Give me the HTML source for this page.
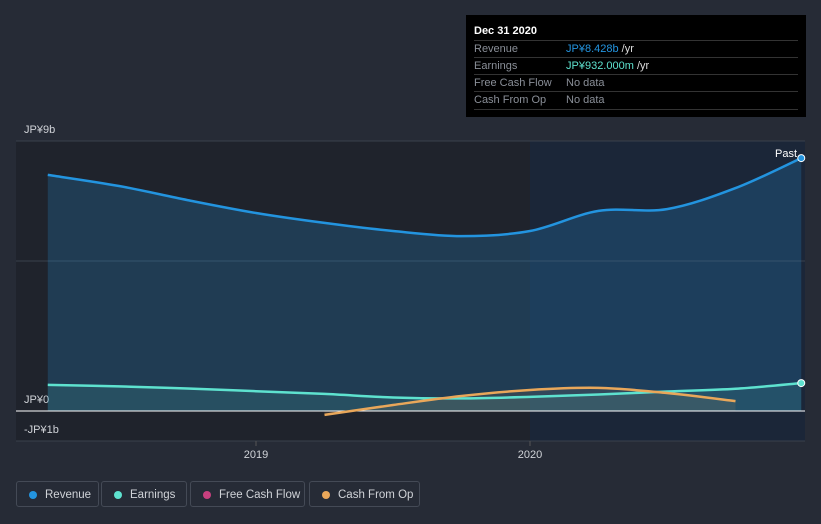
<!DOCTYPE html>
<html><head><meta charset="utf-8"><style>
body{margin:0;width:821px;height:524px;background:#262b36;font-family:"Liberation Sans","Noto Sans CJK JP",sans-serif;overflow:hidden;position:relative}
.tt{position:absolute;left:466px;top:15px;width:340px;height:102px;background:#000;color:#fff;font-size:11px}
.tt .h{position:absolute;left:8px;top:10px;font-weight:bold}
.row{position:absolute;left:8px;width:324px;height:17px;border-top:1px solid #333;line-height:17px;color:#8a8f98}
.row span{position:absolute;left:92px}
.leg{position:absolute;top:481px;height:26px;border:1px solid #444a56;border-radius:3px;color:#d0d3d8;font-size:11.5px;line-height:26px;box-sizing:border-box;white-space:nowrap}
.leg i{position:absolute;left:12px;top:9px;width:8px;height:8px;border-radius:50%}
.leg b{font-weight:normal;position:absolute;left:28px}
</style></head><body>
<svg id="c" width="821" height="524" style="position:absolute;left:0;top:0"></svg>
<div class="tt">
<div class="h">Dec 31 2020</div>
<div class="row" style="top:25px">Revenue<span style="color:#2394df">JP¥8.428b <span style="position:static;color:#ddd">/yr</span></span></div>
<div class="row" style="top:42px">Earnings<span style="color:#5ee2cf">JP¥932.000m <span style="position:static;color:#ddd">/yr</span></span></div>
<div class="row" style="top:59px">Free Cash Flow<span>No data</span></div>
<div class="row" style="top:76px;border-bottom:1px solid #333">Cash From Op<span>No data</span></div>
</div>
<div class="leg" style="left:16px;width:83px"><i style="background:#2394df"></i><b>Revenue</b></div>
<div class="leg" style="left:101px;width:86px"><i style="background:#5ee2cf"></i><b>Earnings</b></div>
<div class="leg" style="left:190px;width:115px"><i style="background:#c8407f"></i><b>Free Cash Flow</b></div>
<div class="leg" style="left:309px;width:111px"><i style="background:#e9a75a"></i><b>Cash From Op</b></div>
<script>
const revX=[2018.24,2018.5,2018.75,2019.0,2019.25,2019.5,2019.75,2020.0,2020.25,2020.5,2020.75,2020.99];
const revenue=[7.87,7.5,7.03,6.6,6.27,6.0,5.83,6.0,6.67,6.73,7.43,8.43];
const earnX=[2018.24,2018.5,2018.75,2019.0,2019.25,2019.5,2019.75,2020.0,2020.25,2020.5,2020.75,2020.99];
const earnings=[0.87,0.82,0.75,0.66,0.57,0.45,0.42,0.47,0.55,0.65,0.74,0.93];
const cfoX=[2019.25,2019.5,2019.75,2020.0,2020.25,2020.5,2020.75];
const cashFromOp=[-0.13,0.2,0.5,0.7,0.77,0.6,0.33];
const yTicks=[9,0,-1];const yLabels=["JP¥9b","JP¥0","-JP¥1b"];
const xTicks=[2019,2020];
const X=v=>256+(v-2019)*274, Y=v=>411-v*30;
const s=document.getElementById('c'),NS='http://www.w3.org/2000/svg';
function add(t,a,p){const e=document.createElementNS(NS,t);for(const k in a)e.setAttribute(k,a[k]);(p||s).appendChild(e);return e}
add('rect',{x:16,y:141,width:789,height:300,fill:'#1f232c'});
add('rect',{x:X(2020),y:141,width:805-X(2020),height:300,fill:'#1b2638'});
add('line',{x1:16,x2:805,y1:141,y2:141,stroke:'#3a404c'});
add('line',{x1:16,x2:805,y1:Y(5),y2:Y(5),stroke:'#3a404c'});
add('line',{x1:16,x2:805,y1:Y(-1),y2:Y(-1),stroke:'#3a404c'});
yTicks.forEach((t,i)=>{const e=add('text',{x:24,y:0,fill:'#d0d3d8','font-size':11});

e.setAttribute('y',t==9?133:t==0?403:433);e.textContent=yLabels[i];});
xTicks.forEach(t=>{add('line',{x1:X(t),x2:X(t),y1:441,y2:446,stroke:'#555'});
const e=add('text',{x:X(t),y:458,fill:'#d0d3d8','font-size':11,'text-anchor':'middle'});
e.textContent=t;});
function smooth(xs,ys){const P=xs.map((x,i)=>[X(x),Y(ys[i])]);let d='M'+P[0][0]+','+P[0][1];
for(let i=0;i<P.length-1;i++){const p0=P[Math.max(0,i-1)],p1=P[i],p2=P[i+1],p3=P[Math.min(P.length-1,i+2)];
const c1=[p1[0]+(p2[0]-p0[0])/6,p1[1]+(p2[1]-p0[1])/6],c2=[p2[0]-(p3[0]-p1[0])/6,p2[1]-(p3[1]-p1[1])/6];
d+=`C${c1[0]},${c1[1]} ${c2[0]},${c2[1]} ${p2[0]},${p2[1]}`}return d}
function area(xs,ys,fill,op,name){const e=add('path',{d:smooth(xs,ys)+`L${X(xs[xs.length-1])},${Y(0)}L${X(xs[0])},${Y(0)}Z`,fill:fill,'fill-opacity':op});}
area(revX,revenue,'#2394df',0.22,'revenue-area');
area(earnX,earnings,'#5ee2cf',0.12,'earnings-area');
area(cfoX,cashFromOp,'#e9a75a',0.1,'cash-from-op-area');
add('line',{x1:16,x2:805,y1:Y(0),y2:Y(0),stroke:'#fff','stroke-width':1});
function line(xs,ys,c,name){const e=add('path',{d:smooth(xs,ys),fill:'none',stroke:c,'stroke-width':2.5});}
line(earnX,earnings,'#5ee2cf','earnings-line');
line(cfoX,cashFromOp,'#e9a75a','cash-from-op-line');
line(revX,revenue,'#2394df','revenue-line');
const d1=add('circle',{cx:X(revX[revX.length-1]),cy:Y(revenue[revenue.length-1]),r:3.5,fill:'#2394df',stroke:'#fff','stroke-width':1});
const d2=add('circle',{cx:X(earnX[earnX.length-1]),cy:Y(earnings[earnings.length-1]),r:3.5,fill:'#5ee2cf',stroke:'#fff','stroke-width':1});
const p=add('text',{x:797,y:157,fill:'#fff','font-size':11,'text-anchor':'end'});p.textContent='Past';
</script>
</body></html>
